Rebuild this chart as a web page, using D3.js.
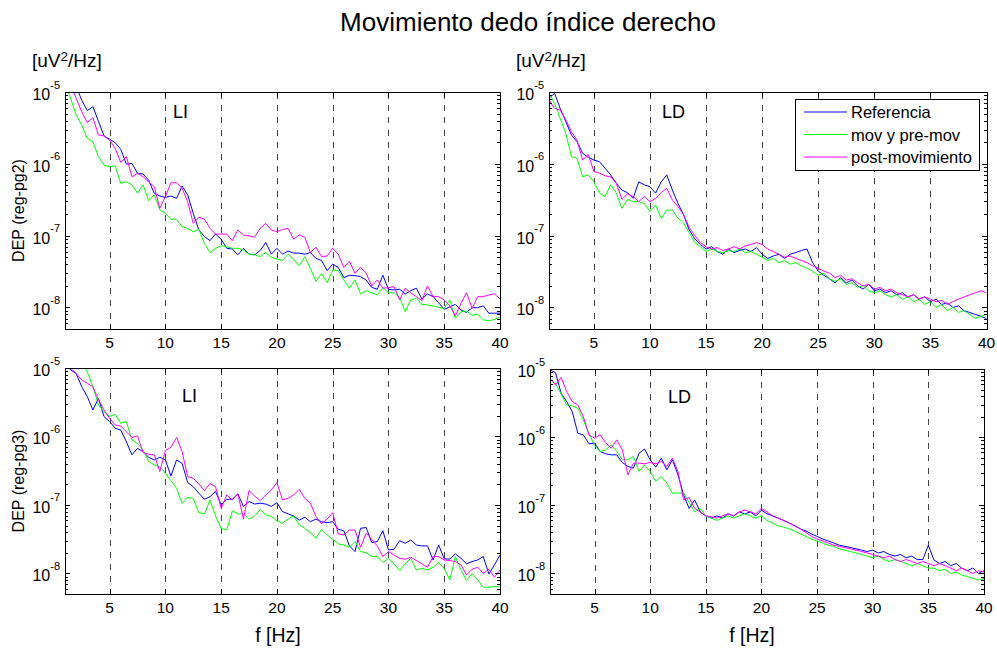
<!DOCTYPE html>
<html lang="es">
<head>
<meta charset="utf-8">
<title>Movimiento dedo índice derecho</title>
<script src="https://cdn.jsdelivr.net/npm/d3@7/dist/d3.min.js"></script>
<style>
  html, body { margin: 0; padding: 0; background: #fff; }
  svg { display: block; font-family: "Liberation Sans", Arial, Helvetica, sans-serif; }
</style>
</head>
<body>
<svg id="chart" width="997" height="650"></svg>
<script>
// ---------- data ----------
const freqHz = [1,1.5,2,2.5,3,3.5,4,4.5,5,5.5,6,6.5,7,7.5,8,8.5,9,9.5,10,10.5,11,11.5,12,12.5,13,13.5,14,14.5,15,15.5,16,16.5,17,17.5,18,18.5,19,19.5,20,20.5,21,21.5,22,22.5,23,23.5,24,24.5,25,25.5,26,26.5,27,27.5,28,28.5,29,29.5,30,30.5,31,31.5,32,32.5,33,33.5,34,34.5,35,35.5,36,36.5,37,37.5,38,38.5,39,39.5,40];
const xTickHz = [5,10,15,20,25,30,35,40];
const gridHz = [5,10,15,20,25,30,35];
const yMajorTicks = [1e-8,1e-7,1e-6,1e-5];
const xDomainHz = [1, 40];
const yDomain = [5e-9, 1e-5];
const seriesNames = ["Referencia", "mov y pre-mov", "post-movimiento"];
const seriesColors = ["#0000ff", "#00ff00", "#ff00ff"];

// DEP, reg-pg2, left hemisphere (LI)
const pg2LI_ref = [2.8e-5,1.8e-5,1.19e-5,7.7e-6,5.5e-6,6.25e-6,3.9e-6,2.44e-6,2.2e-6,1.97e-6,1.59e-6,9.9e-7,1.01e-6,7.4e-7,7.2e-7,5.9e-7,3.9e-7,3.56e-7,3.4e-7,3.56e-7,3.3e-7,4.9e-7,3.7e-7,2.04e-7,1.2e-7,9.7e-8,8.5e-8,1.05e-7,8.9e-8,6.65e-8,6.5e-8,5.4e-8,6.65e-8,5.5e-8,5.4e-8,6.2e-8,8.0e-8,5.5e-8,6.65e-8,5.5e-8,6.1e-8,5.7e-8,5.7e-8,5.5e-8,5.8e-8,4.8e-8,4.5e-8,3.25e-8,4.0e-8,3.6e-8,2.6e-8,2.8e-8,2.77e-8,2.68e-8,2.4e-8,1.9e-8,1.79e-8,2.8e-8,1.79e-8,1.75e-8,1.79e-8,1.54e-8,1.71e-8,1.85e-8,1.31e-8,1.54e-8,1.41e-8,1.16e-8,9.4e-9,1.02e-8,1.1e-8,9.2e-9,8.5e-9,9.9e-9,9.9e-9,1.05e-8,8.3e-9,8.3e-9,8.3e-9];
const pg2LI_mov = [1.32e-5,8.2e-6,4.8e-6,3.47e-6,2.26e-6,2.03e-6,1.26e-6,9.6e-7,9.1e-7,9.3e-7,5.35e-7,5.6e-7,5.1e-7,3.9e-7,5.1e-7,3.07e-7,3.7e-7,2.28e-7,2.04e-7,1.69e-7,1.69e-7,1.33e-7,1.26e-7,1.13e-7,1.22e-7,7.8e-8,5.8e-8,6.65e-8,7.2e-8,7.0e-8,6.65e-8,6.65e-8,6.3e-8,5.5e-8,5.4e-8,5.1e-8,5.8e-8,4.98e-8,4.7e-8,4.5e-8,5.5e-8,4.7e-8,3.78e-8,5.1e-8,3.5e-8,2.29e-8,2.98e-8,2.21e-8,3.32e-8,3.25e-8,2.41e-8,1.85e-8,2.41e-8,1.54e-8,1.71e-8,1.6e-8,1.49e-8,1.9e-8,1.6e-8,1.6e-8,1.38e-8,8.7e-9,1.27e-8,1.34e-8,1.1e-8,1.08e-8,1.05e-8,1.0e-8,9.7e-9,1.27e-8,7.05e-9,8.7e-9,8.9e-9,7.8e-9,8.0e-9,6.7e-9,6.5e-9,6.8e-9,7.3e-9];
const pg2LI_post = [2.25e-5,1.25e-5,8.2e-6,5.3e-6,3.74e-6,4.4e-6,2.52e-6,2.44e-6,2.14e-6,1.64e-6,1.04e-6,1.26e-6,6.6e-7,7.4e-7,6.6e-7,5.6e-7,4.8e-7,2.4e-7,3.5e-7,5.45e-7,5.45e-7,4.55e-7,2.97e-7,1.48e-7,1.8e-7,1.69e-7,1.26e-7,1.05e-7,1.05e-7,1.05e-7,8.5e-8,1.2e-7,1.02e-7,9.9e-8,9.5e-8,1.26e-7,1.48e-7,1.2e-7,1.13e-7,1.22e-7,1.26e-7,8.9e-8,1.02e-7,9.5e-8,5.8e-8,6.9e-8,5.1e-8,5.2e-8,6.65e-8,5.5e-8,3.6e-8,4.4e-8,2.98e-8,3.6e-8,2.98e-8,1.99e-8,2.41e-8,1.85e-8,1.88e-8,1.95e-8,1.27e-8,1.85e-8,1.6e-8,1.41e-8,1.24e-8,1.99e-8,1.41e-8,1.41e-8,1.27e-8,1.05e-8,7.6e-9,1.14e-8,1.6e-8,9.7e-9,1.41e-8,1.41e-8,1.49e-8,1.54e-8,1.31e-8];

// DEP, reg-pg2, right hemisphere (LD)
const pg2LD_ref = [8.2e-6,9.6e-6,5.9e-6,3.87e-6,2.52e-6,2.03e-6,1.4e-6,1.23e-6,1.13e-6,1.07e-6,8.65e-7,7.0e-7,5.35e-7,4.3e-7,3.96e-7,3.3e-7,5.6e-7,5.1e-7,4.8e-7,3.9e-7,5.6e-7,7.0e-7,4.3e-7,2.8e-7,1.94e-7,1.2e-7,9e-8,7.5e-8,6.5e-8,7e-8,6e-8,5.5e-8,6.5e-8,5.8e-8,6.2e-8,6.5e-8,6e-8,6.8e-8,5.5e-8,4.8e-8,5.2e-8,5.5e-8,4.8e-8,5.5e-8,5.8e-8,6.2e-8,6.5e-8,4.2e-8,3.2e-8,2.8e-8,2.5e-8,2.2e-8,2.6e-8,2.2e-8,2.4e-8,2.0e-8,1.8e-8,2.1e-8,1.7e-8,1.8e-8,1.6e-8,1.7e-8,1.5e-8,1.6e-8,1.4e-8,1.5e-8,1.3e-8,1.4e-8,1.2e-8,1.3e-8,1.1e-8,1.15e-8,1.0e-8,1.05e-8,9e-9,8.5e-9,8e-9,7.5e-9,7e-9];
const pg2LD_mov = [9.6e-6,6.95e-6,4.3e-6,2.65e-6,1.26e-6,1.19e-6,6.6e-7,7.0e-7,5.6e-7,3.9e-7,3.5e-7,5.1e-7,3.9e-7,2.4e-7,3.2e-7,2.97e-7,2.97e-7,2.8e-7,2.15e-7,2.67e-7,1.74e-7,2.27e-7,2.27e-7,1.74e-7,1.5e-7,1.1e-7,8e-8,7e-8,6e-8,6.5e-8,6e-8,5.8e-8,6.2e-8,6e-8,6.5e-8,5.8e-8,6e-8,5.5e-8,5e-8,4.5e-8,4.8e-8,4.2e-8,4.5e-8,4e-8,4.2e-8,3.8e-8,3.5e-8,3.2e-8,2.8e-8,3e-8,2.5e-8,2.3e-8,2.5e-8,2.1e-8,2.2e-8,1.9e-8,2e-8,1.7e-8,1.6e-8,1.7e-8,1.5e-8,1.4e-8,1.5e-8,1.3e-8,1.4e-8,1.2e-8,1.3e-8,1.1e-8,1.2e-8,1.0e-8,1.1e-8,9e-9,1.0e-8,8.5e-9,9e-9,8e-9,7e-9,7.5e-9,8e-9];
const pg2LD_post = [7.7e-6,5.9e-6,5.6e-6,4.1e-6,2.8e-6,2.14e-6,1.13e-6,1.35e-6,7.8e-7,7.4e-7,6.8e-7,6.6e-7,5.35e-7,3.2e-7,3.8e-7,3.5e-7,2.97e-7,3.5e-7,2.97e-7,3.3e-7,3.96e-7,4.55e-7,3.13e-7,2.53e-7,1.94e-7,1.3e-7,1e-7,8e-8,7e-8,6.5e-8,6.8e-8,6.2e-8,6.5e-8,7e-8,6.5e-8,7.2e-8,7.5e-8,8e-8,7.5e-8,6.5e-8,6e-8,5.5e-8,5e-8,5.2e-8,4.8e-8,4.5e-8,4.2e-8,3.8e-8,3.5e-8,3.2e-8,3e-8,2.6e-8,2.8e-8,2.4e-8,2.5e-8,2.2e-8,2e-8,2.1e-8,1.8e-8,1.9e-8,1.7e-8,1.8e-8,1.6e-8,1.5e-8,1.4e-8,1.5e-8,1.3e-8,1.4e-8,1.3e-8,1.2e-8,1.25e-8,1.1e-8,1.2e-8,1.3e-8,1.4e-8,1.5e-8,1.6e-8,1.7e-8,1.6e-8];

// DEP, reg-pg3, left hemisphere (LI)
const pg3LI_ref = [1.17e-5,9.35e-6,8.35e-6,5.33e-6,3.82e-6,2.44e-6,3.6e-6,1.95e-6,1.65e-6,1.32e-6,1.24e-6,8.4e-7,5.4e-7,6.7e-7,6.0e-7,4.97e-7,4.54e-7,4.97e-7,4.54e-7,2.65e-7,4.54e-7,4.05e-7,2.12e-7,1.85e-7,1.48e-7,1.21e-7,1.32e-7,1.57e-7,1.0e-7,1.21e-7,1.21e-7,1.45e-7,9.5e-8,1.12e-7,1.03e-7,1.06e-7,1.03e-7,9.5e-8,1.08e-7,8.0e-8,7.4e-8,6.9e-8,6.0e-8,6.6e-8,5.7e-8,6.2e-8,5.7e-8,5.5e-8,5.7e-8,4.4e-8,4.2e-8,2.52e-8,2.08e-8,4.56e-8,4.67e-8,2.82e-8,2.92e-8,4.2e-8,2.2e-8,2.25e-8,3.0e-8,2.75e-8,3.08e-8,2.6e-8,2.52e-8,2.52e-8,1.57e-8,2.6e-8,1.63e-8,1.62e-8,1.93e-8,1.66e-8,1.38e-8,1.49e-8,1.57e-8,1.76e-8,9.8e-9,1.33e-8,1.86e-8];
const pg3LI_mov = [2.56e-5,1.83e-5,1.46e-5,1.24e-5,8.8e-6,5.33e-6,2.88e-6,2.3e-6,1.95e-6,2.11e-6,1.56e-6,1.65e-6,8.9e-7,7.9e-7,6.35e-7,4.3e-7,3.84e-7,3.63e-7,2.9e-7,2.26e-7,1.75e-7,1.05e-7,1.29e-7,1.25e-7,7.7e-8,7.4e-8,1.18e-7,6.9e-8,4.56e-8,4.3e-8,8.2e-8,7.4e-8,7.4e-8,6.2e-8,6.9e-8,8.6e-8,7.1e-8,6.8e-8,5.85e-8,5.4e-8,6.2e-8,6.9e-8,5.1e-8,4.56e-8,3.94e-8,3.26e-8,4.4e-8,3.65e-8,3.15e-8,2.7e-8,2.6e-8,2.41e-8,2.92e-8,2.08e-8,2.01e-8,1.76e-8,1.76e-8,1.44e-8,1.66e-8,1.38e-8,1.1e-8,1.38e-8,1.66e-8,1.12e-8,1.19e-8,1.12e-8,1.23e-8,1.44e-8,1.19e-8,8.0e-9,1.76e-8,1.12e-8,7.85e-9,1.0e-8,8.0e-9,6.3e-9,6.3e-9,6.4e-9,6.4e-9];
const pg3LI_post = [1.31e-5,9.9e-6,8.35e-6,6.7e-6,5.97e-6,5.33e-6,3.41e-6,2.44e-6,1.84e-6,1.47e-6,1.42e-6,1.17e-6,9.7e-7,1.02e-6,5.8e-7,5.5e-7,5.4e-7,3.07e-7,6.2e-7,6.95e-7,9.7e-7,6.0e-7,2.6e-7,2.45e-7,2.03e-7,1.62e-7,2.05e-7,1.85e-7,8.9e-8,1.4e-7,1.18e-7,1.45e-7,6.2e-8,1.62e-7,1.35e-7,1.16e-7,1.4e-7,1.66e-7,2.12e-7,1.18e-7,1.25e-7,1.4e-7,1.69e-7,1.25e-7,1.06e-7,6.8e-8,5.3e-8,6.2e-8,7.7e-8,3.77e-8,3.65e-8,4.3e-8,4.3e-8,2.41e-8,3.86e-8,3.15e-8,2.52e-8,1.76e-8,2.08e-8,1.86e-8,1.66e-8,1.61e-8,1.72e-8,1.54e-8,1.38e-8,1.23e-8,1.76e-8,1.76e-8,1.57e-8,1.54e-8,1.49e-8,1.33e-8,9.5e-9,1.15e-8,1.23e-8,1.0e-8,1.15e-8,8.8e-9,1.12e-8];

// DEP, reg-pg3, right hemisphere (LD)
const pg3LD_ref = [9.7e-6,8.8e-6,4.4e-6,3.33e-6,2.37e-6,1.14e-6,1.08e-6,7.98e-7,8.2e-7,6.17e-7,5.7e-7,5.5e-7,5.5e-7,4.25e-7,3.72e-7,3.51e-7,5.8e-7,6.7e-7,4.66e-7,3.63e-7,4.92e-7,3.32e-7,4.66e-7,2.8e-7,1.43e-7,9e-8,1.2e-7,8e-8,7e-8,6.5e-8,7e-8,6.5e-8,7.5e-8,7e-8,8e-8,7.5e-8,8e-8,7e-8,8.5e-8,7.5e-8,7e-8,6.5e-8,6e-8,5.5e-8,5e-8,4.5e-8,4.2e-8,3.8e-8,3.5e-8,3.2e-8,3e-8,2.8e-8,2.6e-8,2.5e-8,2.4e-8,2.3e-8,2.2e-8,2.1e-8,2.2e-8,2e-8,2.1e-8,1.9e-8,1.8e-8,1.9e-8,1.7e-8,1.8e-8,1.6e-8,1.6e-8,2.6e-8,1.58e-8,1.4e-8,1.5e-8,1.3e-8,1.4e-8,1.2e-8,1.1e-8,1.2e-8,1.0e-8,1.1e-8];
const pg3LD_mov = [6.9e-6,6.17e-6,4.3e-6,2.97e-6,2.87e-6,2.65e-6,1.79e-6,1.14e-6,7.5e-7,6.17e-7,6.5e-7,7.7e-7,6.17e-7,4.66e-7,4.66e-7,5.2e-7,3.14e-7,3.93e-7,3.14e-7,2.24e-7,2.65e-7,2.12e-7,1.51e-7,1.51e-7,1.51e-7,1.1e-7,8e-8,9e-8,7e-8,6.5e-8,6e-8,6.5e-8,7e-8,6.5e-8,7e-8,7.5e-8,7e-8,6.5e-8,7e-8,6e-8,5.5e-8,5e-8,4.8e-8,4.5e-8,4.2e-8,3.8e-8,3.5e-8,3.2e-8,3e-8,2.8e-8,2.6e-8,2.5e-8,2.3e-8,2.2e-8,2.1e-8,2e-8,1.9e-8,1.8e-8,1.7e-8,1.8e-8,1.6e-8,1.5e-8,1.6e-8,1.5e-8,1.4e-8,1.3e-8,1.4e-8,1.3e-8,1.2e-8,1.2e-8,1.1e-8,1.15e-8,1.0e-8,1.05e-8,9.5e-9,9e-9,8.5e-9,8e-9,8.5e-9];
const pg3LD_post = [7.3e-6,5.83e-6,7.55e-6,4.66e-6,3.33e-6,2.97e-6,2.0e-6,1.08e-6,9.7e-7,1.08e-6,8.3e-7,6.9e-7,9.1e-7,6.5e-7,2.8e-7,4.16e-7,4.16e-7,4.06e-7,4.25e-7,4.06e-7,4.4e-7,3.72e-7,4.92e-7,3.14e-7,1.21e-7,1.3e-7,9e-8,8e-8,7e-8,6.8e-8,6.5e-8,7e-8,7.5e-8,7e-8,8e-8,8.5e-8,8e-8,7.5e-8,9e-8,8e-8,7e-8,6.5e-8,6e-8,5.5e-8,5e-8,4.5e-8,4e-8,3.5e-8,3.2e-8,3e-8,2.8e-8,2.6e-8,2.5e-8,2.4e-8,2.3e-8,2.2e-8,2.1e-8,2e-8,1.9e-8,1.8e-8,1.7e-8,1.8e-8,1.6e-8,1.5e-8,1.6e-8,1.5e-8,1.4e-8,1.5e-8,1.4e-8,1.3e-8,1.4e-8,1.3e-8,1.2e-8,1.1e-8,1.2e-8,1.1e-8,1.0e-8,1.1e-8,1.05e-8];

// ---------- layout ----------
const panels = [
  { id: "p1", box: { left: 65,  right: 500,   top: 92,  bottom: 329 }, series: [pg2LI_ref, pg2LI_mov, pg2LI_post],
    tag: "LI", tagAt: [173, 118], ylabel: "DEP (reg-pg2)", unitAt: [32, 66.5], legend: false, xlabel: null },
  { id: "p2", box: { left: 549, right: 986.5, top: 92,  bottom: 329 }, series: [pg2LD_ref, pg2LD_mov, pg2LD_post],
    tag: "LD", tagAt: [662, 118], ylabel: null, unitAt: [516, 66.5], legend: true, xlabel: null },
  { id: "p3", box: { left: 65,  right: 500,   top: 368, bottom: 594 }, series: [pg3LI_ref, pg3LI_mov, pg3LI_post],
    tag: "LI", tagAt: [182, 402], ylabel: "DEP (reg-pg3)", unitAt: null, legend: false, xlabel: [278, 642] },
  { id: "p4", box: { left: 550, right: 984,   top: 369, bottom: 594 }, series: [pg3LD_ref, pg3LD_mov, pg3LD_post],
    tag: "LD", tagAt: [668, 403], ylabel: null, unitAt: null, legend: false, xlabel: [752, 642] }
];

const svg = d3.select("#chart");
svg.append("rect").attr("width", 997).attr("height", 650).attr("fill", "#fff");

// figure title
svg.append("text")
  .attr("x", 528).attr("y", 31)
  .attr("text-anchor", "middle")
  .attr("font-size", 26)
  .attr("fill", "#000")
  .text("Movimiento dedo índice derecho");

// minor tick values of the log axis (2..9 x 10^k inside the domain)
const yMinorTicks = [];
for (let k = -9; k <= -6; k++) {
  for (let m = 2; m <= 9; m++) {
    const v = m * Math.pow(10, k);
    if (v >= yDomain[0] && v <= yDomain[1]) yMinorTicks.push(v);
  }
}

function drawTicks(g, axis, transform) {
  const a = g.append("g").attr("transform", transform).call(axis);
  a.select(".domain").remove();
  a.selectAll("line").attr("stroke", "#000").attr("stroke-width", 1).attr("shape-rendering", "crispEdges");
  a.selectAll("text").remove();
}

panels.forEach(p => {
  const b = p.box;
  const x = d3.scaleLinear().domain(xDomainHz).range([b.left, b.right]);
  const y = d3.scaleLog().domain(yDomain).range([b.bottom, b.top]);
  const g = svg.append("g");

  g.append("clipPath").attr("id", "clip-" + p.id)
    .append("rect")
    .attr("x", b.left).attr("y", b.top)
    .attr("width", b.right - b.left).attr("height", b.bottom - b.top);

  // dashed vertical guides
  g.append("g").selectAll("line").data(gridHz).join("line")
    .attr("x1", d => Math.round(x(d)) + 0.5).attr("x2", d => Math.round(x(d)) + 0.5)
    .attr("y1", b.top + 1).attr("y2", b.bottom)
    .attr("stroke", "#444").attr("stroke-width", 1)
    .attr("stroke-dasharray", "6,6.2")
    .attr("shape-rendering", "crispEdges");

  // spectra
  const line = d3.line().x((d, i) => x(freqHz[i])).y(d => y(d));
  const lines = g.append("g").attr("clip-path", `url(#clip-${p.id})`);
  p.series.forEach((vals, k) => {
    lines.append("path")
      .attr("d", line(vals))
      .attr("fill", "none")
      .attr("stroke", seriesColors[k])
      .attr("stroke-width", 1);
  });

  // frame
  g.append("rect")
    .attr("x", b.left + 0.5).attr("y", b.top + 0.5)
    .attr("width", b.right - b.left).attr("height", b.bottom - b.top)
    .attr("fill", "none").attr("stroke", "#000").attr("stroke-width", 1)
    .attr("shape-rendering", "crispEdges");

  // ticks (inward, on all four sides)
  drawTicks(g, d3.axisBottom(x).tickValues(xTickHz).tickSize(-5), `translate(0,${b.bottom})`);
  drawTicks(g, d3.axisTop(x).tickValues(xTickHz).tickSize(-5), `translate(0,${b.top})`);
  drawTicks(g, d3.axisLeft(y).tickValues(yMajorTicks).tickSize(-5), `translate(${b.left},0)`);
  drawTicks(g, d3.axisRight(y).tickValues(yMajorTicks).tickSize(-5), `translate(${b.right},0)`);
  drawTicks(g, d3.axisLeft(y).tickValues(yMinorTicks).tickSize(-3), `translate(${b.left},0)`);
  drawTicks(g, d3.axisRight(y).tickValues(yMinorTicks).tickSize(-3), `translate(${b.right},0)`);

  // x tick labels
  g.append("g").selectAll("text").data(xTickHz).join("text")
    .attr("x", d => x(d)).attr("y", b.bottom + 19)
    .attr("text-anchor", "middle").attr("font-size", 15.5).attr("fill", "#000")
    .text(d => d);

  // y tick labels as powers of ten
  yMajorTicks.forEach(v => {
    const t = g.append("text")
      .attr("x", b.left - 5).attr("y", y(v) + 8)
      .attr("text-anchor", "end").attr("font-size", 16).attr("fill", "#000");
    t.append("tspan").text("10");
    t.append("tspan").attr("dy", -11.5).attr("font-size", 11).text(String(Math.round(Math.log10(v))));
  });

  // hemisphere tag
  g.append("text").attr("x", p.tagAt[0]).attr("y", p.tagAt[1])
    .attr("font-size", 18).attr("fill", "#000").text(p.tag);

  // units above the axis
  if (p.unitAt) {
    const u = g.append("text").attr("x", p.unitAt[0]).attr("y", p.unitAt[1])
      .attr("font-size", 19).attr("fill", "#000");
    u.append("tspan").text("[uV");
    u.append("tspan").attr("dy", -6).attr("font-size", 13.5).text("2");
    u.append("tspan").attr("dy", 6).text("/Hz]");
  }

  // y axis title
  if (p.ylabel) {
    g.append("text")
      .attr("transform", `translate(23.5,${(b.top + b.bottom) / 2}) rotate(-90)`)
      .attr("text-anchor", "middle").attr("font-size", 16).attr("fill", "#000")
      .text(p.ylabel);
  }

  // x axis title
  if (p.xlabel) {
    g.append("text").attr("x", p.xlabel[0]).attr("y", p.xlabel[1])
      .attr("text-anchor", "middle").attr("font-size", 19.5).attr("fill", "#000")
      .text("f [Hz]");
  }

  // legend
  if (p.legend) {
    const lg = g.append("g");
    lg.append("rect").attr("x", 795.5).attr("y", 99.5).attr("width", 184).attr("height", 71)
      .attr("fill", "#fff").attr("stroke", "#000").attr("stroke-width", 1)
      .attr("shape-rendering", "crispEdges");
    seriesNames.forEach((name, k) => {
      const ry = 112 + k * 22.5;
      lg.append("line").attr("x1", 804).attr("x2", 847).attr("y1", ry).attr("y2", ry)
        .attr("stroke", seriesColors[k]).attr("stroke-width", 1);
      lg.append("text").attr("x", 851).attr("y", ry + 6)
        .attr("font-size", 16.5).attr("fill", "#000").text(name);
    });
  }
});
</script>
</body>
</html>
